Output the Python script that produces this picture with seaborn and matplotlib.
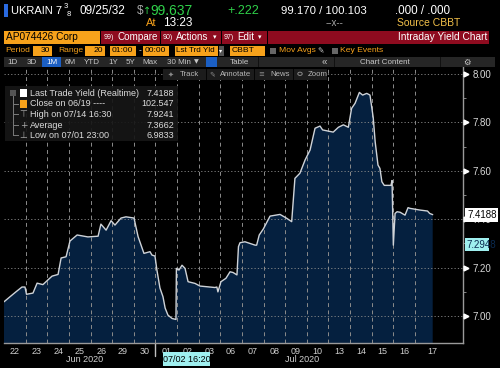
import matplotlib
matplotlib.use("Agg")
import matplotlib.pyplot as plt
import seaborn as sns
import pandas as pd
from matplotlib.patches import Rectangle, Circle

# ---------------- data ----------------
# x = trading-day index (0 = Jun 22 open), y = last trade yield
day_pos = [0.00, 0.28, 0.55, 0.83, 0.97, 1.04, 1.34, 1.53, 1.80, 1.99, 2.22, 2.50, 2.64, 2.87,
           3.05, 3.38, 3.88, 4.35, 4.48, 4.72, 4.95, 5.13, 5.41, 5.64, 6.01, 6.20, 6.47, 6.75,
           6.84, 6.98, 7.07, 7.21, 7.35, 7.45, 7.58, 7.77, 7.95, 7.97, 8.09, 8.23, 8.37, 8.51,
           8.83, 9.06, 9.75, 9.84, 9.89, 10.03, 10.26, 10.45, 10.59, 10.77, 10.84, 10.91, 11.14,
           11.61, 11.68, 11.80, 11.99, 12.30, 12.76, 13.07, 13.30, 13.45, 13.68, 13.92, 14.15,
           14.38, 14.61, 14.73, 15.22, 15.46, 15.69, 15.92, 16.07, 16.23, 16.43, 16.58, 16.77,
           16.92, 17.07, 17.16, 17.29, 17.38, 17.47, 17.58, 17.71, 17.89, 17.94, 18.00, 18.08,
           18.17, 18.31, 18.54, 18.68, 18.77, 19.23, 19.58, 19.68, 19.82]
yield_vals = [7.059, 7.080, 7.100, 7.120, 7.120, 7.090, 7.095, 7.136, 7.130, 7.146, 7.165, 7.172,
              7.240, 7.245, 7.310, 7.335, 7.327, 7.330, 7.380, 7.355, 7.394, 7.376, 7.405, 7.410,
              7.405, 7.328, 7.259, 7.266, 7.252, 7.248, 7.190, 7.116, 7.080, 7.033, 7.004, 6.990,
              6.986, 7.197, 7.190, 7.210, 7.197, 7.142, 7.135, 7.124, 7.118, 7.120, 7.100, 7.142,
              7.156, 7.183, 7.180, 7.170, 7.287, 7.303, 7.307, 7.293, 7.293, 7.335, 7.360, 7.413,
              7.420, 7.404, 7.390, 7.569, 7.590, 7.645, 7.686, 7.776, 7.785, 7.769, 7.760, 7.780,
              7.790, 7.780, 7.858, 7.879, 7.924, 7.913, 7.920, 7.913, 7.820, 7.720, 7.624, 7.610,
              7.555, 7.540, 7.540, 7.540, 7.560, 7.293, 7.424, 7.431, 7.429, 7.417, 7.448, 7.445,
              7.438, 7.434, 7.424, 7.419]
day_labels = ["22", "23", "24", "25", "26", "29", "30", "01", "02", "03", "06", "07", "08", "09",
              "10", "13", "14", "15", "16", "17"]
month_labels = ["Jun 2020", "Jul 2020"]
y_ticks = [7.00, 7.20, 7.40, 7.60, 7.80, 8.00]
legend_names = ["Last Trade Yield (Realtime)", "Close on 06/19 ----", "High on 07/14 16:30",
                "Average", "Low on 07/01 23:00"]
legend_values = ["7.4188", "102.547", "7.9241", "7.3662", "6.9833"]
last_value = "7.4188"
cursor_value = "7.2948"
cursor_time = "07/02 16:20"

# ---------------- style ----------------
sns.set_style("dark", {"axes.facecolor": "black", "figure.facecolor": "black"})
plt.rcParams["font.family"] = ["Liberation Sans", "DejaVu Sans"]

W, H = 500, 368
fig = plt.figure(figsize=(W / 100, H / 100), dpi=100)
fig.patch.set_facecolor("black")

def fx(px):
    return px / W

def fy(py):
    return 1 - py / H

def box(x0, y0, x1, y1, color, z=1, alpha=1.0):
    fig.patches.append(Rectangle((fx(x0), fy(y1)), (x1 - x0) / W, (y1 - y0) / H,
                                 transform=fig.transFigure, facecolor=color, edgecolor="none",
                                 zorder=z, alpha=alpha))

def txt(px, py, s, color="white", size=7, ha="left", z=5, **kw):
    fig.text(fx(px), fy(py), s, color=color, fontsize=size, ha=ha, va="center", zorder=z, **kw)

ORANGE = "#f7a21b"
RED = "#8e0b1f"
GREEN = "#2fd24a"
GRAY = "#a8a8a8"
SYM = ["DejaVu Sans"]

# ---------------- chart ----------------
ax_left, ax_right, ax_top, ax_bot = 4, 463, 67, 342.7
ax = fig.add_axes([fx(ax_left), fy(ax_bot), (ax_right - ax_left) / W, (ax_bot - ax_top) / H])
ax.set_facecolor("black")

df = pd.DataFrame({"day": day_pos, "yield": yield_vals})
ax.fill_between(df["day"], df["yield"], 6.0, color="#05203f", zorder=1, linewidth=0)
sns.lineplot(data=df, x="day", y="yield", ax=ax, color="#cfd3d8", linewidth=1.0, zorder=3)

day_w = 21.63
ax.set_xlim(0, (ax_right - ax_left) / day_w)
ax.set_ylim(6.890, 8.029)

# grid
for v in y_ticks:
    ax.axhline(v, color="#8c8c8c", linewidth=0.6, linestyle=(0, (1.5, 2.5)), zorder=2)
for k in range(1, len(day_labels)):
    ax.axvline(k, color="#8c8c8c", linewidth=0.7, linestyle=(0, (4, 3.5)), zorder=2)

for s in ["top", "left"]:
    ax.spines[s].set_visible(False)
for s in ["bottom", "right"]:
    ax.spines[s].set_visible(True)
    ax.spines[s].set_color("#9a9a9a")
    ax.spines[s].set_linewidth(1.0)

ax.set_xlabel("")
ax.set_ylabel("")
xt = [i + 0.5 for i in range(len(day_labels) - 1)] + [len(day_labels) - 1 + 0.82]
ax.set_xticks(xt)
ax.set_xticklabels(day_labels, color="#d0d0d0", fontsize=6.5)
ax.tick_params(axis="x", length=0, pad=3)

ax.yaxis.tick_right()
ax.set_yticks(y_ticks)
ax.set_yticklabels([f"{v:.2f}" for v in y_ticks], color="#d8d8d8", fontsize=7)
ax.tick_params(axis="y", which="major", length=0, pad=7)
ax.set_yticks([v + 0.1 for v in y_ticks[:-1]], minor=True)
ax.tick_params(axis="y", which="minor", length=2.5, color="#9a9a9a", direction="out")
ax.plot([1.007] * len(y_ticks), y_ticks, linestyle="none", marker=">", markersize=3.5,
        color="white", transform=ax.get_yaxis_transform(), clip_on=False, zorder=6)

# month separator under the axis
ax.plot([7, 7], [0, -0.05], color="#c0c0c0", linewidth=1, transform=ax.get_xaxis_transform(),
        clip_on=False)
txt(85, 360, month_labels[0], color="#d0d0d0", size=6.5, ha="center")
txt(302, 360, month_labels[1], color="#d0d0d0", size=6.5, ha="center")
box(163, 352, 210, 366, "#9fefef", z=4)
txt(186.5, 359, cursor_time, color="black", size=6.5, ha="center")

# right value labels
box(465, 208, 498, 222, "white", z=6)
txt(467, 215, last_value, color="black", size=7, z=7)
box(465, 238, 489, 251, "#9fefef", z=6)
txt(466, 244.5, cursor_value, color="#0a2a50", size=7, z=7)

# ---------------- header ----------------
box(4, 4, 8, 17, "#2a6ae0")
txt(11, 11, "UKRAIN 7", size=8)
txt(64, 7, "3", size=5.5)
txt(67, 14, "8", size=5.5)
txt(80, 11, "09/25/32", size=8.5)
txt(137, 11, "$", color=GRAY, size=8.5)
txt(143, 11, "\u2191", color=GREEN, size=7, family=SYM)
txt(150, 11, "99.637", color=GREEN, size=10)
txt(227, 11, "+.222", color=GREEN, size=9)
txt(281, 11, "99.170 / 100.103", size=8.2)
txt(395, 11, ".000 / .000", size=8.4)
txt(146, 23.5, "At", color=ORANGE, size=8)
txt(163, 23.5, "13:23", size=8.5)
txt(335, 23.5, "--x--", color=GRAY, size=7, ha="center")
txt(397, 23.5, "Source CBBT", color="#f3c14a", size=7.5)

# row 3: security + buttons
box(4, 31, 100, 44, ORANGE)
txt(6, 37.5, "AP074426 Corp", color="black", size=7.3)
box(101, 31, 160, 44, RED)
txt(104, 37.5, "99)", size=5)
txt(117, 37.5, "Compare", size=7.1)
box(161, 31, 221, 44, RED)
txt(163, 37.5, "90)", size=5)
txt(176, 37.5, "Actions", size=7.1)
txt(213, 37.5, "\u25be", size=5, family=SYM)
box(222, 31, 267, 44, RED)
txt(224, 37.5, "97)", size=5)
txt(237, 37.5, "Edit", size=7.1)
txt(258, 37.5, "\u25be", size=5, family=SYM)
box(268, 31, 489, 44, RED)
txt(487, 37.5, "Intraday Yield Chart", size=7.3, ha="right")

# row 4: parameters
P = 6.1
txt(5, 51, "Period", color=ORANGE, size=P)
box(33, 46, 52, 56, ORANGE)
txt(50, 51, "30", color="black", size=P, ha="right")
txt(58, 51, "Range", color=ORANGE, size=P)
box(85, 46, 105, 56, ORANGE)
txt(103, 51, "20", color="black", size=P, ha="right")
box(110, 46, 136, 56, ORANGE)
txt(112, 51, "01:00", color="black", size=P)
txt(138.5, 51, "-", color="white", size=P)
box(143, 46, 169, 56, ORANGE)
txt(145, 51, "00:00", color="black", size=P)
box(175, 46, 218, 56, ORANGE)
txt(176, 51, "Lst Trd Yld", color="black", size=5.9)
box(218.5, 46, 224, 56, "#555555")
txt(219.3, 51, "\u25be", size=4.5, family=SYM)
box(230, 46, 265, 56, ORANGE)
txt(232, 51, "CBBT", color="black", size=P)
box(270, 48, 276, 54, "#666666")
txt(279, 51, "Mov Avgs", color=ORANGE, size=P)
txt(317, 51, "\u270e", color="#cccccc", size=5.5, family=SYM)
box(332, 48, 338, 54, "#666666")
txt(340, 51, "Key Events", color=ORANGE, size=P)

# row 5: toolbar
box(4, 57, 495, 67, "#262626")
for px, s in [(13, "1D"), (32, "3D"), (70, "6M"), (92, "YTD"), (113, "1Y"), (131, "5Y"),
              (150, "Max")]:
    txt(px, 62, s, color="#c8c8c8", size=5.8, ha="center")
box(42, 57.5, 61, 66.5, "#1b5fc4")
txt(51.5, 62, "1M", color="white", size=5.8, ha="center")
txt(167, 62, "30 Min", color="#c8c8c8", size=5.8)
txt(194, 62, "\u25bc", color="#c8c8c8", size=4.5, family=SYM)
box(206, 57.5, 217, 66.5, "#1b5fc4")
txt(239, 62, "Table", color="#c8c8c8", size=5.8, ha="center")
box(258, 57, 259, 67, "#111111")
txt(322, 62, "\u00ab", color="#c8c8c8", size=7)
box(334, 57, 335, 67, "#111111")
txt(385, 62, "Chart Content", color="#c8c8c8", size=5.8, ha="center")
box(440, 57, 441, 67, "#111111")
txt(467, 62, "\u2699", color="#c8c8c8", size=6, ha="center", family=SYM)

# row 6: chart tools overlay
box(163, 69, 327, 80, "#1c1c1c", z=4)
for px in [206, 254, 293]:
    box(px, 69, px + 1, 80, "#050505", z=5)
for px, s in [(168, "\u2726"), (209, "\u270e"), (258, "\u2261")]:
    txt(px, 74.5, s, color="#8a8a8a", size=5, z=6, family=SYM)
fig.patches.append(Circle((fx(300), fy(73.8)), 2.2 / W, transform=fig.transFigure,
                          facecolor="none", edgecolor="#8a8a8a", linewidth=0.7, zorder=6))
for px, s in [(180, "Track"), (220, "Annotate"), (270, "News"), (308, "Zoom")]:
    txt(px, 74.5, s, color="#b8b8b8", size=5.6, z=6)

# legend panel
box(5, 86, 178, 141, "#161616", z=4, alpha=0.92)
rows_y = [93.3, 104, 114.3, 125, 135]
box(10, 90, 16, 96, "#555555", z=5)
for y in rows_y[1:]:
    box(13, y, 19, y + 0.6, "#777777", z=5)
box(13, 96, 13.6, rows_y[-1], "#777777", z=5)
box(20, 89, 27, 97, "white", z=6)
box(20, 100, 27, 108, ORANGE, z=6)
txt(23.5, rows_y[2], "\u22a4", color="#aaaaaa", size=6.5, ha="center", z=6, family=SYM)
txt(23.5, rows_y[3], "+", color="#aaaaaa", size=6.5, ha="center", z=6, family=SYM)
txt(23.5, rows_y[4], "\u22a5", color="#aaaaaa", size=6.5, ha="center", z=6, family=SYM)
for y, name, val in zip(rows_y, legend_names, legend_values):
    txt(30, y, name, color="#dcdcdc", size=6.5, z=6)
    txt(174, y, val, color="#dcdcdc", size=6.5, ha="right", z=6)

fig.savefig("out.png", dpi=100, facecolor="black")
